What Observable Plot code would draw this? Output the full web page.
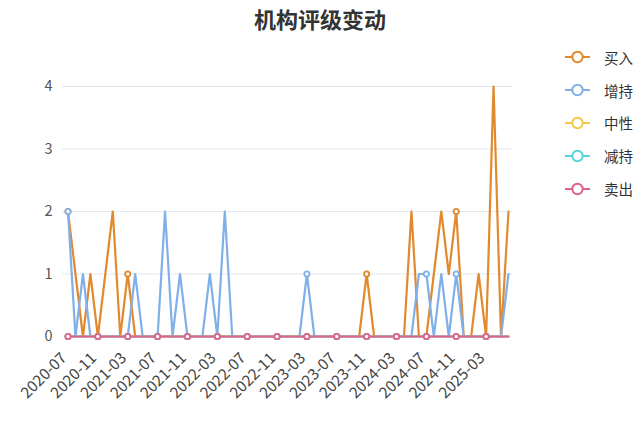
<!DOCTYPE html>
<html><head><meta charset="utf-8">
<script src="https://cdn.jsdelivr.net/npm/d3@7"></script>
<script src="https://cdn.jsdelivr.net/npm/@observablehq/plot@0.6"></script>
<style>
body{margin:0;background:#fff;font-family:"Noto Sans CJK SC","Noto Sans",sans-serif;}
#wrap{position:relative;width:640px;height:426px;overflow:hidden;}
#title{position:absolute;top:3px;left:0;width:640px;text-align:center;font-size:22px;line-height:30px;font-weight:bold;color:#333;}
#chart{position:absolute;left:0;top:0;}
#legend{position:absolute;left:564px;top:41px;}
.item{display:flex;align-items:center;height:32.8px;font-size:14.5px;color:#333;}
.item svg{margin-right:13px;}
</style></head>
<body><div id="wrap"><div id="chart"></div><div id="title">机构评级变动</div><div id="legend"></div></div>
<script>
const months = ["2020-07","2020-08","2020-09","2020-10","2020-11","2020-12",
"2021-01","2021-02","2021-03","2021-04","2021-05","2021-06","2021-07","2021-08","2021-09","2021-10","2021-11","2021-12",
"2022-01","2022-02","2022-03","2022-04","2022-05","2022-06","2022-07","2022-08","2022-09","2022-10","2022-11","2022-12",
"2023-01","2023-02","2023-03","2023-04","2023-05","2023-06","2023-07","2023-08","2023-09","2023-10","2023-11","2023-12",
"2024-01","2024-02","2024-03","2024-04","2024-05","2024-06","2024-07","2024-08","2024-09","2024-10","2024-11","2024-12",
"2025-01","2025-02","2025-03","2025-04","2025-05","2025-06"];
const tickLabels = ["2020-07","2020-11","2021-03","2021-07","2021-11","2022-03","2022-07","2022-11","2023-03","2023-07","2023-11","2024-03","2024-07","2024-11","2025-03"];
const seriesNames = ["买入","增持","中性","减持","卖出"];
const seriesColors = ["#e2892e","#80b0e9","#f4ca45","#58d2df","#e0628a"];
const buy     = [2,1,0,1,0,1,2,0,1,0, 0,0,0,0,0,0,0,0,0,0, 0,0,0,0,0,0,0,0,0,0, 0,0,0,0,0,0,0,0,0,0, 1,0,0,0,0,0,2,0,0,1, 2,1,2,0,0,1,0,4,0,2];
const add     = [2,0,1,0,0,0,0,0,0,1, 0,0,0,2,0,1,0,0,0,1, 0,2,0,0,0,0,0,0,0,0, 0,0,1,0,0,0,0,0,0,0, 0,0,0,0,0,0,0,1,1,0, 1,0,1,0,0,0,0,0,0,1];
const neutral = [0,0,0,0,0,0,0,0,0,0, 0,0,0,0,0,0,0,0,0,0, 0,0,0,0,0,0,0,0,0,0, 0,0,0,0,0,0,0,0,0,0, 0,0,0,0,0,0,0,0,0,0, 0,0,0,0,0,0,0,0,0,0];
const reduce  = [0,0,0,0,0,0,0,0,0,0, 0,0,0,0,0,0,0,0,0,0, 0,0,0,0,0,0,0,0,0,0, 0,0,0,0,0,0,0,0,0,0, 0,0,0,0,0,0,0,0,0,0, 0,0,0,0,0,0,0,0,0,0];
const sell    = [0,0,0,0,0,0,0,0,0,0, 0,0,0,0,0,0,0,0,0,0, 0,0,0,0,0,0,0,0,0,0, 0,0,0,0,0,0,0,0,0,0, 0,0,0,0,0,0,0,0,0,0, 0,0,0,0,0,0,0,0,0,0];
const yTicks = [0,1,2,3,4];

const tickIdx = tickLabels.map(t => months.indexOf(t));
const allValues = [buy, add, neutral, reduce, sell];
const marks = [
  Plot.gridY({ticks:[1,2,3,4], stroke:"#e3e7ef", strokeOpacity:1}),
  Plot.axisY({ticks:yTicks, tickFormat:d => String(d), tickSize:0, tickPadding:10, fontSize:14.5, label:null, fill:"#555"}),
  Plot.axisX({ticks:tickIdx, tickFormat:i => months[i], tickSize:0, tickRotate:-45, tickPadding:19, dx:-4, fontSize:15.5, label:null, fill:"#444"})
];
allValues.forEach((vals, k) => {
  const rows = months.map((m, i) => ({i, v: vals[i]}));
  const tickRows = rows.filter(r => tickIdx.includes(r.i));
  marks.push(Plot.line(rows, {x:"i", y:"v", stroke:seriesColors[k], strokeWidth:2.2}));
  marks.push(Plot.dot(tickRows, {x:"i", y:"v", r:2.6, fill:"#fff", stroke:seriesColors[k], strokeWidth:1.8}));
});

const chart = Plot.plot({
  width:640, height:426,
  marginTop:86, marginBottom:90, marginLeft:62, marginRight:128,
  style:{fontFamily:'"Noto Sans CJK SC","Noto Sans",sans-serif', fontSize:"14px", background:"transparent", color:"#555"},
  x:{type:"linear", domain:[0, months.length - 1], insetLeft:5.5, insetRight:4},
  y:{domain:[0,4]},
  marks
});
document.getElementById("chart").appendChild(chart);

const legend = document.getElementById("legend");
seriesNames.forEach((name, k) => {
  const div = document.createElement("div");
  div.className = "item";
  div.innerHTML = `<svg width="27" height="14"><line x1="1" y1="7" x2="26" y2="7" stroke="${seriesColors[k]}" stroke-width="2"/><circle cx="13.5" cy="7" r="5.2" fill="#fff" stroke="${seriesColors[k]}" stroke-width="2"/></svg><span>${name}</span>`;
  legend.appendChild(div);
});
</script>
</body></html>
